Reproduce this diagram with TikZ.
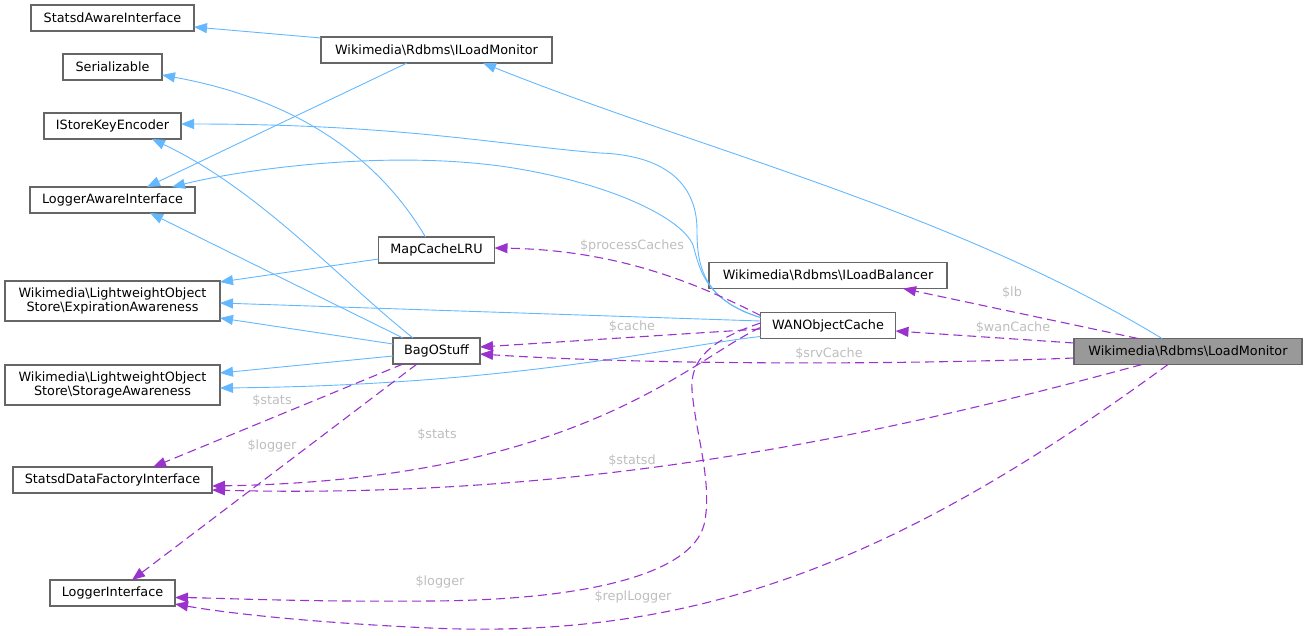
\documentclass[tikz,border=0pt]{standalone}
\usepackage{fontspec}
\setmainfont{DejaVu Sans}
\usetikzlibrary{arrows.meta}
\usetikzlibrary{positioning}
\definecolor{inhblue}{HTML}{63B8FF}
\definecolor{usepurple}{HTML}{9A32CD}
\definecolor{boxgrey}{HTML}{666666}
\definecolor{labelgrey}{HTML}{BEBEBE}
\definecolor{curfill}{HTML}{999999}
\newcommand{\bsl}{\textbackslash}

\begin{document}
\begin{tikzpicture}[
  x=1pt, y=-1pt,
  cls/.style={rectangle, draw=boxgrey, fill=white, line width=1.3pt,
    minimum height=26pt, inner sep=2pt, outer sep=0pt, align=center,
    font=\fontsize{12.8}{14.5}\selectfont},
  cur/.style={cls, fill=curfill},
  inherit/.style={-{Triangle[length=13pt, width=10pt]}, draw=inhblue, line width=0.9pt},
  member/.style={-{Triangle[length=13pt, width=10pt]}, draw=usepurple,
    line width=1.1pt, dash pattern=on 9pt off 5pt},
  lbl/.style={font=\fontsize{12.8}{14.5}\selectfont, text=labelgrey, inner sep=0pt},
]
\useasboundingbox (0,0) rectangle (1307,635);

% === Left column: interfaces ===
\node[cls, minimum width=163pt] (sai) at (112.5,18) {StatsdAwareInterface};
\node[cls, minimum width=99pt, below=23pt of sai] (ser) {Serializable};
\node[cls, minimum width=137pt, below=33pt of ser] (ske) {IStoreKeyEncoder};
\node[cls, minimum width=165pt, below=48pt of ske] (lai) {LoggerAwareInterface};
\node[cls, minimum width=215pt, minimum height=40pt, below=68pt of lai] (exp)
  {Wikimedia\bsl LightweightObject\\Store\bsl ExpirationAwareness};
\node[cls, minimum width=215pt, minimum height=40pt, below=44pt of exp] (sta)
  {Wikimedia\bsl LightweightObject\\Store\bsl StorageAwareness};
\node[cls, minimum width=199pt, below=62pt of sta] (sdf) {StatsdDataFactoryInterface};
\node[cls, minimum width=125pt, below=87pt of sdf] (li) {LoggerInterface};

% === Middle column ===
\node[cls, minimum width=231pt] (ilm) at (436.5,50) {Wikimedia\bsl Rdbms\bsl ILoadMonitor};
\node[cls, minimum width=116pt, below=174pt of ilm] (mcl) {MapCacheLRU};
\node[cls, minimum width=87pt, below=75pt of mcl] (bag) {BagOStuff};

% === Right side ===
\node[cls, minimum width=238pt] (ilb) at (828,275.5) {Wikimedia\bsl Rdbms\bsl ILoadBalancer};
\node[cls, minimum width=135pt, below=24pt of ilb] (wan) {WANObjectCache};
\node[cur, minimum width=228pt] (lm) at (1188,351.5) {Wikimedia\bsl Rdbms\bsl LoadMonitor};

% === Inheritance ===
\draw[inherit] ([yshift=-1pt]ilm.north west) -- ([yshift=-9pt]sai.east);
\draw[inherit] ([xshift=-29.5pt]ilm.south) -- ([xshift=34.5pt]lai.north);
\draw[inherit] ([xshift=-26pt]lm.north) .. controls (950,210) and (700,150) .. ([xshift=46.5pt]ilm.south);
\draw[inherit] ([xshift=-11pt]mcl.north) .. controls (380,160) and (300,100) .. ([yshift=-8pt]ser.east);
\draw[inherit] ([xshift=-23.5pt]bag.north) .. controls (340,280) and (260,190) .. ([xshift=39.5pt]ske.south);
\draw[inherit] ([xshift=-33.5pt]bag.north) -- ([xshift=37.5pt]lai.south);
\draw[inherit] ([yshift=-9pt]mcl.west) -- ([yshift=19pt]exp.east);
\draw[inherit] ([yshift=7pt]bag.west) -- ([yshift=-17pt]exp.east);
\draw[inherit] ([yshift=4.5pt]wan.west) -- ([yshift=-2pt]exp.east);
\draw[inherit] ([yshift=-5pt]bag.west) -- ([yshift=12pt]sta.east);
\draw[inherit] ([yshift=2pt]wan.south west) .. controls (680,345) and (520,385) .. ([yshift=-3pt]sta.east);
\draw[inherit] ([yshift=-5pt]wan.north west) .. controls (700,300) and (697,260) .. (697,230)
  .. controls (697,180) and (660,155) .. (600,153) .. controls (500,145) and (400,124) .. ([yshift=2pt]ske.east);
\draw[inherit] ([yshift=-5pt]wan.north west) .. controls (705,300) and (700,270) .. (693,245)
  .. controls (680,215) and (600,180) .. (500,166) .. controls (380,150) and (240,170) .. ([xshift=59.5pt]lai.north);

% === Members ===
\draw[member] ([yshift=-3pt]wan.north west) .. controls (700,285) and (620,250) .. ([yshift=2pt]mcl.east);
\draw[member] ([yshift=-3.5pt]wan.west) -- ([yshift=4pt]bag.east);
\draw[member] ([yshift=-6.5pt]lm.west) .. controls (900,365) and (650,365) .. ([yshift=-3pt]bag.east);
\draw[member] ([yshift=8.5pt]lm.west) -- ([yshift=-5.5pt]wan.east);
\draw[member] ([xshift=-50pt]lm.north) -- ([xshift=75pt]ilb.south);
\draw[member] ([yshift=-2pt]wan.west) .. controls (690,360) and (580,480) .. ([yshift=-6pt]sdf.east);
\draw[member] ([xshift=-46pt]lm.south) .. controls (900,430) and (600,500) .. ([yshift=-10pt]sdf.east);
\draw[member] ([yshift=2.5pt]wan.west) .. controls (710,340) and (690,360) .. (692,390)
  .. controls (695,430) and (712,480) .. (705,520) .. controls (698,570) and (600,600) .. (430,601)
  .. controls (300,602) and (220,598) .. ([yshift=-4.5pt]li.east);
\draw[member] ([xshift=-20pt]lm.south) .. controls (900,560) and (700,640) .. (430,628)
  .. controls (300,622) and (220,612) .. ([yshift=-11pt]li.east);
\draw[member] ([xshift=-33.5pt]bag.south) -- ([xshift=40.5pt]sdf.north);
\draw[member] ([xshift=-19.5pt]bag.south) -- ([xshift=19.5pt]li.north);

% === Member labels ===
\node[lbl] (l-proc) at (632,246) {\$processCaches};
\node[lbl] (l-cache) at (632,327) {\$cache};
\node[lbl] (l-srv) at (829,354) {\$srvCache};
\node[lbl] (l-wan) at (1013,328) {\$wanCache};
\node[lbl] (l-lb) at (1012,293) {\$lb};
\node[lbl] (l-stats1) at (437,435) {\$stats};
\node[lbl] (l-statsd) at (632,461) {\$statsd};
\node[lbl] (l-logger1) at (440,582) {\$logger};
\node[lbl] (l-repl) at (633,597) {\$replLogger};
\node[lbl] (l-stats2) at (272,401) {\$stats};
\node[lbl] (l-logger2) at (272,446) {\$logger};

\end{tikzpicture}
\end{document}
